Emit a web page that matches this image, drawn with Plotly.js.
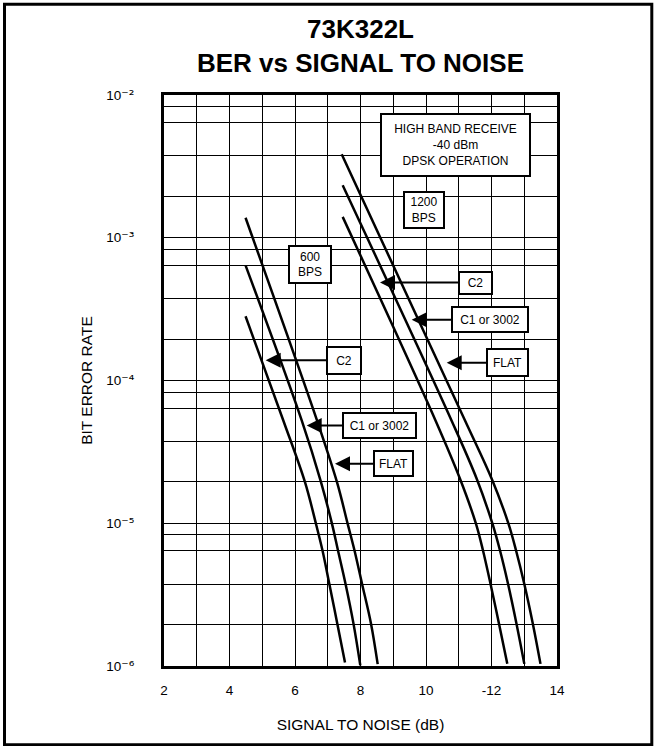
<!DOCTYPE html>
<html>
<head>
<meta charset="utf-8">
<script src="https://cdn.plot.ly/plotly-3.0.1.min.js"></script>
<style>
  html, body { margin: 0; padding: 0; background: #fff; }
  #chart { width: 654px; height: 746px; }
</style>
</head>
<body>
<div id="chart"></div>
<script>
// ---- Data (SNR in dB, bit error rate) ----
const snr600C2   = [4.49, 5.643, 6.305, 6.641, 6.84, 7.047, 7.292, 7.527];
const ber600C2   = [2.82e-4, 5.25e-5, 1.94e-5, 9.9e-6, 6.44e-6, 3.77e-6, 1.98e-6, 1.06e-6];

const snr600C1   = [4.49, 6.205, 6.794, 7.13, 7.313, 7.542, 7.786, 7.994];
const ber600C1   = [6.41e-4, 5.25e-5, 1.94e-5, 9.9e-6, 6.44e-6, 3.77e-6, 1.98e-6, 1.01e-6];

const snr600Flat = [4.49, 6.672, 7.282, 7.609, 7.817, 8.046, 8.321, 8.525];
const ber600Flat = [1.38e-3, 5.25e-5, 1.94e-5, 9.9e-6, 6.44e-6, 3.77e-6, 1.98e-6, 1.03e-6];

const snr1200C2   = [7.456, 10.29, 11.038, 11.527, 11.74, 11.969, 12.229, 12.482];
const ber1200C2   = [1.40e-3, 5.25e-5, 2.05e-5, 9.9e-6, 6.44e-6, 3.77e-6, 1.98e-6, 1.035e-6];

const snr1200C1   = [7.456, 10.779, 11.548, 12.031, 12.26, 12.504, 12.763, 13.002];
const ber1200C1   = [2.33e-3, 5.25e-5, 2.05e-5, 9.9e-6, 6.44e-6, 3.77e-6, 1.98e-6, 1.035e-6];

const snr1200Flat = [7.426, 11.191, 12.006, 12.52, 12.75, 13.0, 13.262, 13.496];
const ber1200Flat = [3.84e-3, 5.25e-5, 2.05e-5, 9.9e-6, 6.44e-6, 3.77e-6, 1.98e-6, 1.035e-6];

// ---- Tick labels / grid positions ----
const xTickVals  = [2, 4, 6, 8, 10, 12, 14];
const xTickText  = ['2', '4', '6', '8', '10', '-12', '14'];
const xMinorVals = [3, 5, 7, 9, 11, 13];

const yTickVals  = [1e-6, 1e-5, 1e-4, 1e-3, 1e-2];
const yExponents = ['\u207B\u2076', '\u207B\u2075', '\u207B\u2074', '\u207B\u00B3', '\u207B\u00B2'];
const yMinorVals = [1.95e-6, 3.75e-6, 6.4e-6, 8.3e-6,
                    1.95e-5, 3.75e-5, 6.4e-5, 8.3e-5,
                    1.95e-4, 3.75e-4, 6.4e-4, 8.3e-4,
                    1.95e-3, 3.75e-3, 6.4e-3, 8.3e-3];
const yTickText = yExponents.map(e =>
  '10<span style="font-family:DejaVu Sans;font-size:14px">' + e + '</span>');

// ---- Annotation texts and anchor points (x in dB, y as log10 BER) ----
const calloutText = ['C2', 'C1 or 3002', 'FLAT', 'C2', 'C1 or 3002', 'FLAT'];
const calloutX    = [8.595, 9.563, 10.632, 5.105, 6.357, 7.221];
const calloutY    = [-3.314, -3.574, -3.875, -3.859, -4.315, -4.583];
const calloutDx   = [95.2, 78.2, 60.6, 78.1, 72.5, 58.8];
const calloutW    = [31, 74, 39, 32, 71, 37];
const calloutH    = [20, 23, 25, 25, 23, 23];

const boxText = ['HIGH BAND RECEIVE<br>-40 dBm<br>DPSK OPERATION', '1200<br>BPS', '600<br>BPS'];
const boxX    = [10.90, 9.945, 6.467];
const boxY    = [-2.350, -2.808, -3.186];
const boxW    = [147, 38, 40];
const boxH    = [60, 34, 35];

const FONT = 'Liberation Sans, Arial, Helvetica, sans-serif';

function curve(x, y) {
  return {
    x: x, y: y, type: 'scatter', mode: 'lines',
    line: { color: '#000', width: 2.5, shape: 'spline', smoothing: 1 },
    hoverinfo: 'skip', showlegend: false
  };
}

const traces = [
  curve(snr600C2, ber600C2),
  curve(snr600C1, ber600C1),
  curve(snr600Flat, ber600Flat),
  curve(snr1200C2, ber1200C2),
  curve(snr1200C1, ber1200C1),
  curve(snr1200Flat, ber1200Flat)
];

const annotations = [];
for (let i = 0; i < calloutText.length; i++) {
  annotations.push({
    x: calloutX[i], y: calloutY[i], xref: 'x', yref: 'y',
    text: calloutText[i], showarrow: true,
    ax: calloutDx[i], ay: 0,
    arrowhead: 2, arrowsize: 1.5, arrowwidth: 2, arrowcolor: '#000',
    bgcolor: '#fff', bordercolor: '#000', borderwidth: 2, borderpad: 0,
    width: calloutW[i], height: calloutH[i],
    font: { family: FONT, size: 12, color: '#000' }
  });
}
for (let i = 0; i < boxText.length; i++) {
  annotations.push({
    x: boxX[i], y: boxY[i], xref: 'x', yref: 'y',
    text: boxText[i], showarrow: false,
    bgcolor: '#fff', bordercolor: '#000', borderwidth: 2, borderpad: 0,
    width: boxW[i], height: boxH[i],
    font: { family: FONT, size: 12, color: '#000' }
  });
}

const gridStyle = { showgrid: true, gridcolor: '#000', gridwidth: 1 };

const layout = {
  width: 654, height: 746,
  margin: { l: 164, r: 97, t: 95, b: 80 },
  paper_bgcolor: '#fff', plot_bgcolor: '#fff',
  font: { family: FONT, color: '#000' },
  showlegend: false,
  hovermode: false,
  title: {
    text: '<b>73K322L<br>BER vs SIGNAL TO NOISE</b>',
    font: { family: FONT, size: 26, color: '#000' },
    x: 0.5, xref: 'paper', xanchor: 'center',
    y: 1 - 38 / 746, yref: 'container', yanchor: 'middle'
  },
  xaxis: Object.assign({
    type: 'linear', range: [2, 14],
    tickmode: 'array', tickvals: xTickVals, ticktext: xTickText,
    ticks: '', ticklabelstandoff: 10,
    tickfont: { family: FONT, size: 13.5, color: '#000' },
    minor: Object.assign({ tickmode: 'array', tickvals: xMinorVals, ticks: '' }, gridStyle),
    showline: true, linecolor: '#000', linewidth: 3, mirror: true,
    zeroline: false, fixedrange: true,
    title: { text: 'SIGNAL TO NOISE (dB)', standoff: 22,
             font: { family: FONT, size: 15.5, color: '#000' } }
  }, gridStyle),
  yaxis: Object.assign({
    type: 'log', range: [-6, -2],
    tickmode: 'array', tickvals: yTickVals, ticktext: yTickText,
    ticks: '', ticklabelstandoff: 24,
    tickfont: { family: FONT, size: 13.5, color: '#000' },
    minor: Object.assign({ tickmode: 'array', tickvals: yMinorVals, ticks: '' }, gridStyle),
    showline: true, linecolor: '#000', linewidth: 3, mirror: true,
    zeroline: false, fixedrange: true,
    title: { text: 'BIT ERROR RATE', standoff: 10,
             font: { family: FONT, size: 15.5, color: '#000' } }
  }, gridStyle),
  annotations: annotations,
  shapes: [{
    type: 'rect', xref: 'paper', yref: 'paper',
    x0: (4.5 - 164) / 393, x1: (651.8 - 164) / 393,
    y0: (666 - 744.7) / 571, y1: (666 - 4.3) / 571,
    line: { color: '#000', width: 3 }, fillcolor: 'rgba(0,0,0,0)',
    layer: 'above'
  }]
};

Plotly.newPlot('chart', traces, layout, { displayModeBar: false });
</script>
</body>
</html>
